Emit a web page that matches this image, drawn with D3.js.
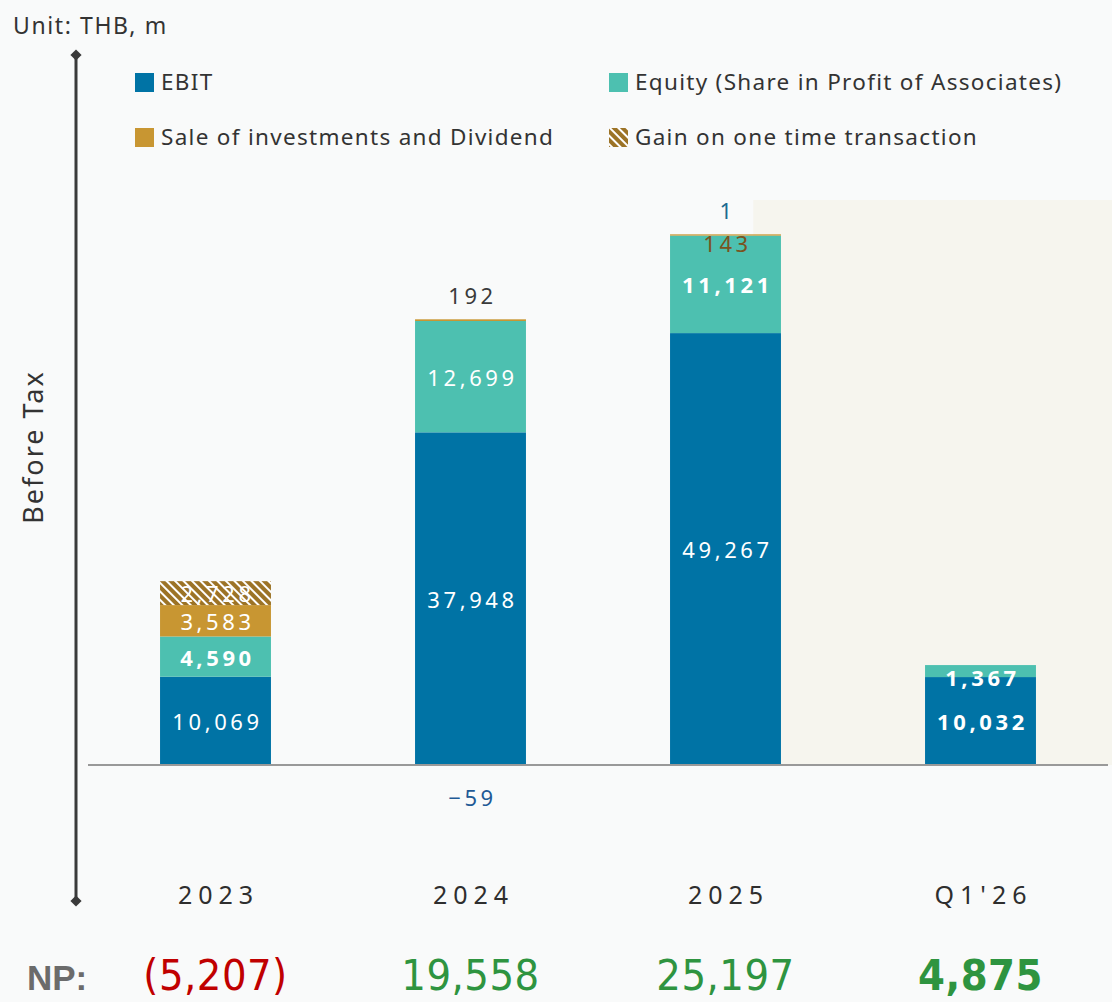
<!DOCTYPE html>
<meta charset="utf-8">
<style>
body { margin: 0; background: #f9fafa; }
svg { display: block; font-family: "Noto Sans", sans-serif; }
.val { font-size: 22px; letter-spacing: 3.6px; text-anchor: middle; dominant-baseline: central; }
.tick { font-size: 25px; letter-spacing: 6px; fill: #2e2e2e; text-anchor: middle; }
.legend text { font-size: 22.5px; letter-spacing: 1.3px; fill: #333; }
.np { font-family: "Liberation Sans Narrow", "DejaVu Sans Condensed", sans-serif; font-size: 43px; letter-spacing: 0.5px; text-anchor: middle; }
</style>
<svg width="1112" height="1002"></svg>
<script src="https://d3js.org/d3.v7.min.js"></script>
<script>

var categories = ["2023", "2024", "2025", "Q1'26"];
var ebit   = [10069, 37948, 49267, 10032];
var equity = [4590, 12699, 11121, 1367];
var sale   = [3583, 192, 143, 0];
var gain   = [2728, -59, 1, 0];
var npVals = ["(5,207)", "19,558", "25,197", "4,875"];
var seriesNames = ["EBIT", "Equity (Share in Profit of Associates)", "Sale of investments and Dividend", "Gain on one time transaction"];

var keys = ["ebit", "equity", "sale", "gain"];
var colors = { ebit: "#0073a5", equity: "#4dc0b0", sale: "#c89632", gain: "url(#hatch)" };

var svg = d3.select("svg"),
    width = +svg.attr("width"),
    height = +svg.attr("height");

var rows = categories.map(function(c, i) {
  return { cat: c, ebit: ebit[i], equity: equity[i], sale: sale[i], gain: gain[i] };
});

var x = d3.scaleBand()
    .domain(categories)
    .range([88, 1108])
    .paddingInner(0.565)
    .paddingOuter(0.2825);

var y = d3.scaleLinear()
    .domain([0, 60000])
    .range([765, 239]);

// hatch pattern for one-time gain
var defs = svg.append("defs");
var pat = defs.append("pattern")
    .attr("id", "hatch")
    .attr("patternUnits", "userSpaceOnUse")
    .attr("width", 6).attr("height", 6)
    .attr("patternTransform", "rotate(-45)");
pat.append("rect").attr("width", 6).attr("height", 6).attr("fill", "#9c7326");
pat.append("rect").attr("width", 2).attr("height", 6).attr("fill", "#ffffff");

// highlight area behind latest quarter
svg.append("rect")
    .attr("x", x("2025") + x.bandwidth() * 0.75)
    .attr("y", 200)
    .attr("width", width - (x("2025") + x.bandwidth() * 0.75))
    .attr("height", y(0) - 200)
    .attr("fill", "#f6f5ee");

var stack = d3.stack().keys(keys).offset(d3.stackOffsetDiverging);
var series = stack(rows);

svg.append("g").selectAll("g")
  .data(series)
  .enter().append("g")
    .attr("fill", function(d) { return colors[d.key]; })
  .selectAll("rect")
  .data(function(d) { return d; })
  .enter().append("rect")
    .attr("x", function(d) { return x(d.data.cat); })
    .attr("y", function(d) { return y(d[1]); })
    .attr("width", x.bandwidth())
    .attr("height", function(d) { return Math.max(0, y(d[0]) - y(d[1])); });

// baseline
svg.append("line")
    .attr("x1", 88).attr("x2", 1108)
    .attr("y1", y(0)).attr("y2", y(0))
    .attr("stroke", "#999").attr("stroke-width", 2);

// value labels
var bold = { "2023|equity": 1, "2025|equity": 1, "Q1'26|ebit": 1, "Q1'26|equity": 1 };
var outside = {
  "2024|sale":   { dy: -24, color: "#3a3a3a" },
  "2024|gain":   { dy: 32, color: "#1f5a96", fromBase: true },
  "2025|sale":   { dy: 9, color: "#7a5320" },
  "2025|gain":   { dy: -24, color: "#1d6a90" },
  "Q1'26|equity": { dy: 6, color: "#fff", mid: true }
};
var fmt = d3.format(",");
var labels = [];
series.forEach(function(s) {
  s.forEach(function(d) {
    var v = d.data[s.key];
    if (!v) return;
    var k = d.data.cat + "|" + s.key;
    var cx = x(d.data.cat) + x.bandwidth() / 2;
    var o = outside[k], cy, col = "#fff";
    if (o) {
      col = o.color;
      if (o.fromBase) cy = y(0) + o.dy;
      else if (o.mid) cy = (y(d[0]) + y(d[1])) / 2 + o.dy;
      else cy = y(d[1]) + o.dy;
    } else {
      cy = (y(d[0]) + y(d[1])) / 2;
    }
    labels.push({ x: cx, y: cy, t: fmt(v), c: col, b: bold[k] });
  });
});

svg.append("g").selectAll("text")
  .data(labels)
  .enter().append("text")
    .attr("class", "val")
    .attr("x", function(d) { return d.x + 2; })
    .attr("y", function(d) { return d.y; })
    .attr("fill", function(d) { return d.c; })
    .attr("font-weight", function(d) { return d.b ? "bold" : null; })
    .text(function(d) { return d.t; });

// x tick labels
svg.append("g").selectAll("text")
  .data(categories)
  .enter().append("text")
    .attr("class", "tick")
    .attr("x", function(d) { return x(d) + x.bandwidth() / 2 + 3; })
    .attr("y", 904)
    .text(function(d) { return d; });

// vertical axis with diamond ends
svg.append("line")
    .attr("x1", 76).attr("x2", 76)
    .attr("y1", 55).attr("y2", 901)
    .attr("stroke", "#3a3a3a").attr("stroke-width", 3);
svg.selectAll(".dia")
  .data([55, 901])
  .enter().append("path")
    .attr("d", d3.symbol().type(d3.symbolDiamond2).size(80))
    .attr("transform", function(d) { return "translate(76," + d + ")"; })
    .attr("fill", "#3a3a3a");

svg.append("text")
    .attr("transform", "translate(43,447) rotate(-90)")
    .attr("text-anchor", "middle")
    .attr("font-size", 27)
    .attr("letter-spacing", 2)
    .attr("fill", "#333")
    .text("Before Tax");

svg.append("text")
    .attr("x", 13).attr("y", 34)
    .attr("font-size", 23)
    .attr("letter-spacing", 1.6)
    .attr("fill", "#333")
    .text("Unit: THB, m");

// legend
var legendPos = [[135, 82], [609, 82], [135, 137], [609, 137]];
var legendKeys = ["ebit", "equity", "sale", "gain"];
var lg = svg.append("g").attr("class", "legend").selectAll("g")
  .data(legendKeys)
  .enter().append("g")
    .attr("transform", function(d, i) { return "translate(" + legendPos[i][0] + "," + legendPos[i][1] + ")"; });
lg.append("rect")
    .attr("x", 0).attr("y", -9)
    .attr("width", 19).attr("height", 19)
    .attr("fill", function(d) { return colors[d]; });
lg.append("text")
    .attr("x", 26).attr("y", 8)
    .text(function(d, i) { return seriesNames[i]; });

// net profit row
svg.append("text")
    .attr("x", 27).attr("y", 990)
    .attr("font-family", "'Liberation Sans Narrow', sans-serif")
    .attr("font-size", 35).attr("font-weight", "bold")
    .attr("fill", "#6b6b6b")
    .text("NP:");
svg.append("g").selectAll("text")
  .data(npVals)
  .enter().append("text")
    .attr("class", "np")
    .attr("x", function(d, i) { return x(categories[i]) + x.bandwidth() / 2; })
    .attr("y", 990)
    .attr("fill", function(d) { return d.charAt(0) === "(" ? "#c00000" : "#2e9440"; })
    .attr("font-weight", function(d, i) { return i === 3 ? "bold" : null; })
    .text(function(d) { return d; });

</script>
